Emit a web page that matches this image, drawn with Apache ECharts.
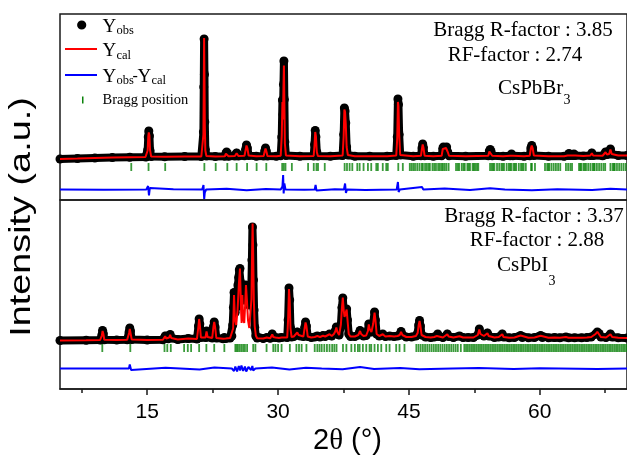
<!DOCTYPE html>
<html>
<head>
<meta charset="utf-8">
<script src="https://cdn.jsdelivr.net/npm/echarts@6/dist/echarts.min.js"></script>
<style>html,body{margin:0;padding:0;background:#fff;}#c{width:627px;height:455px;}</style>
</head>
<body>
<div id="c"></div>
<script>
// ---------- DATA ----------
const xTickValues = [15, 30, 45, 60];
const xMinorTickValues = [7.5, 22.5, 37.5, 52.5, 67.5];

// CsPbBr3 (top panel)
const obsTop = [
[5.0,600],[7.0,700],[9.0,800],[11.0,880],[13.0,950],[14.8,1000],
[14.95,1050],[15.05,2400],[15.12,5000],[15.18,6200],[15.25,5200],[15.32,2300],[15.45,1100],
[17.0,1050],[19.3,1100],[21.2,1100],
[21.38,1300],[21.44,6000],[21.48,15000],[21.52,24600],[21.56,17500],[21.6,8000],[21.66,2500],[21.78,1200],
[22.8,1100],[23.9,1150],[24.02,1700],[24.1,2000],[24.2,1700],[24.32,1150],
[25.05,1200],[25.17,1600],[25.25,1800],[25.33,1600],[25.45,1200],
[26.15,1250],[26.28,2500],[26.38,3400],[26.48,2800],[26.62,1300],
[27.5,1150],[28.35,1200],[28.47,2200],[28.56,2800],[28.65,2200],[28.78,1200],
[29.8,1150],[30.3,1250],[30.42,5000],[30.5,12400],[30.56,9500],[30.62,15500],[30.67,20200],[30.72,12500],[30.78,4000],[30.9,1300],
[32.5,1150],[34.08,1200],[34.18,3500],[34.26,6300],[34.34,5000],[34.44,2000],[34.56,1200],
[36.0,1150],[37.4,1300],[37.52,5500],[37.6,10800],[37.68,10200],[37.76,7800],[37.86,3000],[38.0,1400],
[38.8,1150],[40.5,1150],[42.5,1150],[43.55,1300],[43.66,5000],[43.74,12600],[43.8,11500],[43.88,5500],[44.0,1400],
[45.5,1150],[46.38,1250],[46.5,2800],[46.58,3600],[46.66,2900],[46.8,1250],
[47.8,1150],[48.75,1250],[48.88,2700],[48.95,3000],[49.1,2400],[49.25,2900],[49.32,3000],[49.45,2000],[49.6,1250],
[51.5,1150],[54.1,1250],[54.22,2200],[54.32,2500],[54.42,2100],[54.55,1250],
[55.8,1150],[56.6,1250],[56.76,1600],[56.92,1250],[58.2,1150],
[58.85,1250],[58.98,2800],[59.08,3300],[59.18,2800],[59.32,1300],
[61.0,1150],[62.8,1150],[63.2,1300],[63.35,1700],[63.5,1300],[63.8,1300],[63.92,1600],[64.05,1300],
[65.0,1200],[65.8,1300],[65.97,1800],[66.12,1300],[67.2,1250],[67.4,1400],[67.54,2000],[67.7,1500],
[67.95,1600],[68.1,2600],[68.25,1600],[69.0,1300],[70.0,1300]
];
const calTop = [
[5.0,620],[7.0,700],[9.0,790],[11.0,880],[13.0,950],[14.8,1000],
[14.95,1030],[15.05,2300],[15.12,5100],[15.18,5900],[15.25,5300],[15.32,2400],[15.45,1080],
[17.0,1050],[19.3,1100],[21.2,1100],
[21.38,1250],[21.44,5500],[21.48,14500],[21.52,24800],[21.56,17000],[21.6,7500],[21.66,2300],[21.78,1200],
[22.8,1100],[23.9,1150],[24.02,1650],[24.1,1950],[24.2,1700],[24.32,1150],
[25.05,1200],[25.17,1550],[25.25,1750],[25.33,1600],[25.45,1200],
[26.15,1250],[26.28,2400],[26.38,3300],[26.48,2800],[26.62,1300],
[27.5,1150],[28.35,1200],[28.47,2150],[28.56,2700],[28.65,2200],[28.78,1200],
[29.8,1150],[30.3,1250],[30.42,5200],[30.5,12000],[30.56,8500],[30.62,15000],[30.67,19300],[30.72,12000],[30.78,3700],[30.9,1300],
[32.5,1150],[34.08,1200],[34.18,3400],[34.26,6000],[34.34,5100],[34.44,2000],[34.56,1200],
[36.0,1150],[37.4,1300],[37.52,5200],[37.6,10500],[37.68,10000],[37.76,7600],[37.86,3000],[38.0,1400],
[38.8,1150],[40.5,1150],[42.5,1150],[43.55,1300],[43.66,4800],[43.74,12000],[43.8,11200],[43.88,5600],[44.0,1400],
[45.5,1150],[46.38,1250],[46.5,2700],[46.58,3500],[46.66,2900],[46.8,1250],
[47.8,1150],[48.75,1250],[48.88,2600],[48.95,2900],[49.1,2400],[49.25,2800],[49.32,2900],[49.45,2000],[49.6,1250],
[51.5,1150],[54.1,1250],[54.22,2100],[54.32,2450],[54.42,2100],[54.55,1250],
[55.8,1150],[56.6,1250],[56.76,1600],[56.92,1250],[58.2,1150],
[58.85,1250],[58.98,2700],[59.08,3300],[59.18,2800],[59.32,1300],
[61.0,1150],[62.8,1150],[63.2,1300],[63.35,1650],[63.5,1300],[63.8,1300],[63.92,1600],[64.05,1300],
[65.0,1200],[65.8,1300],[65.97,1750],[66.12,1300],[67.2,1250],[67.4,1400],[67.54,1950],[67.7,1500],
[67.95,1600],[68.1,2500],[68.25,1600],[69.0,1300],[70.0,1300]
];
const diffTop = [
[5,0],[10,-50],[14.9,0],[15.1,700],[15.2,-1200],[15.3,300],[15.5,0],[18,50],[21.3,0],
[21.45,900],[21.53,-1900],[21.6,-600],[21.75,0],[24.1,150],[26.4,-150],[28.6,100],[30.3,0],
[30.5,600],[30.58,2900],[30.64,-800],[30.72,1200],[30.85,0],[33,-50],[34.2,0],[34.3,900],
[34.4,-200],[34.55,0],[36.5,50],[37.55,0],[37.68,1200],[37.78,-700],[37.9,0],[40,-100],
[43.6,0],[43.74,1500],[43.82,-500],[43.95,0],[46.5,500],[46.65,0],[49.1,200],[52,-100],
[54.3,250],[56,0],[59.1,-150],[62,50],[66,-100],[68.1,150],[70,0]
];
const braggTop = [
13.17,15.15,17.06,21.55,22.85,24.18,25.25,26.45,27.54,28.65,30.47,30.66,30.85,31.58,33.44,34.09,
34.4,34.58,35.35,37.63,37.9,38.2,38.51,39.08,39.35,39.8,40.3,40.68,41.26,41.44,42.0,42.4,42.58,
43.78,44.3,45.1,45.3,45.5,45.7,45.95,46.2,46.45,46.6,46.85,47.05,47.25,47.4,47.7,47.9,48.1,48.35,48.55,48.75,48.9,
49.1,49.3,49.55,50.4,50.6,50.75,51.05,51.25,51.4,51.7,51.85,52.0,52.3,52.45,52.6,52.8,52.95,54.3,54.5,54.65,54.8,55.1,55.35,55.6,55.75,55.9,
56.2,56.45,56.6,56.75,57.0,57.15,57.3,57.6,57.85,58.0,58.15,58.4,59.0,59.1,59.45,60.6,60.85,61.0,61.1,61.35,61.6,
61.85,62.1,62.35,63.0,63.25,63.5,63.7,64.5,64.65,64.75,65.0,65.15,65.3,65.55,65.8,66.05,66.2,66.3,66.55,66.8,
67.05,67.3,67.5,68.1,68.35,68.5,68.6,68.85,69.1,69.35,69.6,69.85
];

// CsPbI3 (bottom panel)
const obsBot = [
[5,900],[8,950],[9.6,1000],[9.7,1050],[9.8,2000],[9.88,2900],[9.96,2300],[10.08,1050],
[11.5,1000],[12.7,1050],[12.8,1100],[12.92,2600],[13.0,3400],[13.08,2800],[13.22,1100],
[15.0,1000],[16.8,1050],[16.95,1300],[17.06,1800],[17.18,1300],[17.4,1250],[17.52,1500],[17.63,2100],[17.75,1400],
[18.5,1100],[19.7,1300],[20.7,1200],[20.78,1400],[20.88,3800],[20.95,5200],[21.03,4200],[21.15,1500],
[21.68,1500],[21.8,2800],[21.92,1600],[22.45,1400],[22.58,3600],[22.68,4600],[22.78,3600],[22.92,1400],
[23.7,1250],[23.84,1500],[24.0,1300],[24.5,1400],
[24.7,1800],[24.8,4000],[24.88,7500],[24.95,10500],[25.02,8000],[25.08,6500],[25.14,8500],[25.2,7500],
[25.26,8500],[25.32,10000],[25.4,12000],[25.48,13500],[25.56,15000],[25.63,15300],[25.7,12500],[25.76,9500],
[25.82,9000],[25.88,10500],[25.94,9500],[26.0,9000],[26.06,10000],[26.12,9500],[26.18,10500],[26.24,11500],
[26.3,12000],[26.36,11800],[26.42,11000],[26.48,10000],[26.55,9000],[26.62,8500],[26.7,8000],[26.78,8500],
[26.86,9500],[26.94,12000],[27.0,17000],[27.06,23600],[27.12,20000],[27.18,13000],[27.25,7000],[27.33,3500],
[27.45,1800],[27.6,1400],
[28.3,1300],[28.7,1500],[29.1,1350],[29.2,1500],[29.33,2200],[29.45,1600],[29.7,1500],[30.1,1400],[30.4,1500],
[31.05,1500],[31.15,5000],[31.25,11400],[31.33,9000],[31.42,3500],[31.55,1600],
[31.8,1700],[32.0,2000],[32.2,2600],[32.35,2000],[32.55,1800],
[32.9,1700],[33.05,3500],[33.15,4600],[33.25,3800],[33.4,1700],
[33.8,1500],[34.2,1600],[34.5,1800],[34.8,1600],[35.15,1900],[35.4,1700],[35.6,1900],[35.9,2200],[36.15,1800],[36.4,2200],
[36.55,2800],[36.68,3600],[36.8,2600],[37.0,2000],[37.2,4000],[37.32,7500],[37.42,9400],[37.52,7000],
[37.62,5500],[37.75,6500],[37.86,7200],[37.96,5000],[38.1,2200],[38.3,1700],
[38.8,1700],[39.2,2000],[39.3,2300],[39.4,2900],[39.52,2200],[39.8,1800],[40.1,1900],
[40.3,2800],[40.4,4200],[40.5,3200],[40.7,2600],[40.9,4200],[41.06,6600],[41.16,5000],[41.3,2200],
[41.6,1800],[42.0,2200],[42.3,1700],[42.8,1800],[43.3,1700],[43.7,1800],
[43.95,2000],[44.1,2700],[44.25,2000],[44.7,1600],[45.3,1600],[45.8,1800],
[46.0,2400],[46.12,4000],[46.22,4900],[46.32,3800],[46.45,2000],
[46.9,1600],[47.5,1500],[47.9,1600],[48.2,1800],[48.3,2200],[48.42,1700],
[48.9,1500],[49.4,2200],[49.55,1700],[50.1,1500],[50.8,1800],[51.2,1500],[51.8,1500],[52.4,1500],
[52.9,2000],[53.07,3200],[53.2,2200],[53.6,1800],[54.0,2400],[54.15,1800],
[54.8,1500],[55.3,1600],[55.7,2200],[55.85,1600],[56.5,1450],[57.1,1500],[57.8,1900],[58.0,1500],
[58.7,1450],[59.4,1500],[60.1,1900],[60.3,1500],[61.0,1450],[61.7,1500],[62.3,1450],[63.0,1600],[63.3,1450],
[64.0,1450],[64.8,1450],[65.4,1500],[65.9,1600],[66.4,2200],[66.6,2600],[66.8,2300],[67.0,1600],
[67.6,1500],[68.1,2200],[68.3,1600],[69.0,1450],[70.0,1400]
];
const calBot = [
[5,920],[8,950],[9.6,1000],[9.7,1050],[9.8,1900],[9.88,2800],[9.96,2300],[10.08,1050],
[11.5,1000],[12.7,1050],[12.8,1100],[12.92,2400],[13.0,3200],[13.08,2800],[13.22,1100],
[15.0,1000],[16.8,1050],[16.95,1300],[17.06,1750],[17.18,1300],[17.4,1250],[17.52,1500],[17.63,2050],[17.75,1400],
[18.5,1100],[19.7,1300],[20.7,1200],[20.78,1400],[20.88,3900],[20.95,5200],[21.03,4100],[21.15,1500],
[21.68,1500],[21.8,2700],[21.92,1600],[22.45,1400],[22.58,3500],[22.68,4600],[22.78,3600],[22.92,1400],
[23.7,1250],[23.84,1450],[24.0,1300],[24.5,1400],
[24.7,1700],[24.85,3300],[24.95,10000],[25.05,5200],[25.2,4000],[25.35,6800],[25.5,12000],[25.63,15300],
[25.75,7200],[25.82,4400],[25.9,10000],[26.0,5200],[26.12,4400],[26.22,7800],[26.32,12000],[26.42,9200],
[26.55,5000],[26.7,3400],[26.85,3800],[26.95,9200],[27.02,18500],[27.08,24300],[27.14,19000],[27.22,9000],
[27.32,3800],[27.45,1900],[27.6,1350],
[28.3,1300],[28.7,1500],[29.1,1350],[29.2,1500],[29.33,2100],[29.45,1600],[29.7,1500],[30.1,1400],[30.4,1500],
[31.05,1500],[31.15,5200],[31.25,11200],[31.33,9000],[31.42,3400],[31.55,1600],
[31.8,1700],[32.0,2000],[32.2,2500],[32.35,2000],[32.55,1800],
[32.9,1700],[33.05,3400],[33.15,4500],[33.25,3800],[33.4,1700],
[33.8,1500],[34.2,1600],[34.5,1800],[34.8,1600],[35.15,1850],[35.4,1700],[35.6,1900],[35.9,2150],[36.15,1800],[36.4,2200],
[36.55,2700],[36.68,3500],[36.8,2600],[37.0,2000],[37.2,4100],[37.32,7400],[37.42,9500],[37.52,7000],
[37.62,5600],[37.75,6400],[37.86,7100],[37.96,5000],[38.1,2200],[38.3,1700],
[38.8,1700],[39.2,2000],[39.3,2200],[39.4,2800],[39.52,2200],[39.8,1800],[40.1,1900],
[40.3,2800],[40.4,4100],[40.5,3200],[40.7,2600],[40.9,4200],[41.06,6500],[41.16,5000],[41.3,2200],
[41.6,1800],[42.0,2150],[42.3,1700],[42.8,1800],[43.3,1700],[43.7,1800],
[43.95,2000],[44.1,2650],[44.25,2000],[44.7,1600],[45.3,1600],[45.8,1800],
[46.0,2400],[46.12,4000],[46.22,4800],[46.32,3800],[46.45,2000],
[46.9,1600],[47.5,1500],[47.9,1600],[48.2,1800],[48.3,2150],[48.42,1700],
[48.9,1500],[49.4,2150],[49.55,1700],[50.1,1500],[50.8,1750],[51.2,1500],[51.8,1500],[52.4,1500],
[52.9,2000],[53.07,3100],[53.2,2200],[53.6,1800],[54.0,2350],[54.15,1800],
[54.8,1500],[55.3,1600],[55.7,2150],[55.85,1600],[56.5,1450],[57.1,1500],[57.8,1900],[58.0,1500],
[58.7,1450],[59.4,1500],[60.1,1850],[60.3,1500],[61.0,1450],[61.7,1500],[62.3,1450],[63.0,1600],[63.3,1450],
[64.0,1450],[64.8,1450],[65.4,1500],[65.9,1600],[66.4,2200],[66.6,2650],[66.8,2300],[67.0,1600],
[67.6,1500],[68.1,2150],[68.3,1600],[69.0,1450],[70.0,1400]
];
const diffBot = [
[5,0],[9.7,0],[9.9,300],[10.1,0],[12.9,0],[13.0,800],[13.15,-300],[13.3,0],[17.1,150],[21,-200],
[22.7,200],[24.7,0],[24.95,-500],[25.1,400],[25.3,-600],[25.5,500],[25.65,-400],[25.8,600],[26.0,-500],
[26.2,400],[26.35,-600],[26.6,300],[26.9,-300],[27.05,500],[27.15,-400],[27.4,0],[29.3,200],[31.3,-200],
[33.2,150],[35,0],[37.4,-150],[39.4,300],[41,-100],[44,100],[46.2,-150],[50,0],[53,100],[57,-100],
[60,50],[66.6,-100],[70,0]
];
const braggBot = [
9.85,13.06,16.98,17.3,17.7,19.23,19.65,20.03,20.95,21.78,22.68,23.84,25.1,25.25,25.4,25.6,25.8,26.0,
26.2,26.45,27.15,27.4,28.68,29.45,29.7,30.0,30.4,31.35,32.1,32.4,32.7,33.25,34.2,34.5,34.75,35.0,35.3,
35.6,35.9,36.2,36.45,36.7,37.44,37.83,38.4,38.8,39.15,39.35,39.72,40.11,40.49,40.68,41.06,41.44,41.83,
42.4,42.78,43.54,43.92,44.49,45.85,46.1,46.35,46.6,46.85,47.1,47.35,47.6,47.85,48.1,48.35,48.6,48.85,
49.1,49.35,49.6,49.85,50.1,50.35,50.6,50.95,51.35,51.55,51.75,51.95,52.15,52.35,52.55,52.75,52.95,53.15,
53.35,53.55,53.75,53.95,54.15,54.35,54.55,54.75,54.95,55.15,55.35,55.55,55.75,55.95,56.15,56.35,56.55,
56.75,56.95,57.15,57.35,57.55,57.75,57.95,58.15,58.35,58.55,58.75,58.95,59.15,59.35,59.55,59.75,59.95,
60.15,60.35,60.55,60.75,60.95,61.15,61.35,61.55,61.75,61.95,62.15,62.35,62.55,62.75,62.95,63.15,63.35,
63.55,63.75,63.95,64.15,64.35,64.55,64.75,64.95,65.15,65.35,65.55,65.75,65.95,66.15,66.35,66.55,66.75,
66.95,67.15,67.35,67.55,67.75,67.95,68.15,68.35,68.55,68.75,68.95,69.15,69.35,69.55,69.75,69.95
];

// display offsets (axis units) for the Bragg-tick rows and the difference curves
const BRAGG_LEVEL_TOP = -1000, DIFF_OFFSET_TOP = -5500;
const BRAGG_LEVEL_BOT = -600,  DIFF_OFFSET_BOT = -4700;

// ---------- CHART ----------
const chart = echarts.init(document.getElementById('c'), null, {renderer: 'canvas'});
const SERIF = '"Liberation Serif", "Times New Roman", serif';
const SANS = '"Liberation Sans", Arial, sans-serif';
const GREEN = '#0a820a';

function obsSeries(data, xi, yi) {
  return {type: 'line', xAxisIndex: xi, yAxisIndex: yi, data: data, symbol: 'circle', symbolSize: 9,
    showSymbol: true, showAllSymbol: true, lineStyle: {color: '#000', width: 8, join: 'round'}, itemStyle: {color: '#000'},
    z: 1, silent: true};
}
function calSeries(data, xi, yi) {
  return {type: 'line', xAxisIndex: xi, yAxisIndex: yi, data: data, symbol: 'none',
    lineStyle: {color: '#ff0000', width: 2}, z: 3, silent: true};
}
function diffSeries(data, off, xi, yi) {
  return {type: 'line', xAxisIndex: xi, yAxisIndex: yi, data: data.map(p => [p[0], p[1] + off]), symbol: 'none',
    lineStyle: {color: '#0000ff', width: 2}, z: 3, silent: true};
}
function braggSeries(pos, lvl, xi, yi) {
  return {type: 'scatter', xAxisIndex: xi, yAxisIndex: yi, data: pos.map(x => [x, lvl]), symbol: 'rect',
    symbolSize: [1.8, 8], itemStyle: {color: GREEN}, z: 2, silent: true};
}

function txt(x, y, text, size, opts) {
  return Object.assign({type: 'text', x: x, y: y, silent: true,
    style: Object.assign({text: text, fontSize: size, fontFamily: SERIF, fill: '#000', align: 'left', verticalAlign: 'middle'}, (opts && opts.style) || {})},
    opts && opts.el || {});
}

const option = {
  animation: false,
  backgroundColor: '#fff',
  textStyle: {fontFamily: SANS},
  grid: [
    {left: 60, top: 14, right: -1, height: 186, show: true, borderColor: '#1a1a1a', borderWidth: 1.5, backgroundColor: 'transparent'},
    {left: 60, top: 200, right: -1, height: 189, show: true, borderColor: '#1a1a1a', borderWidth: 1.5, backgroundColor: 'transparent'}
  ],
  xAxis: [
    {type: 'value', gridIndex: 0, min: 5, max: 70, show: false},
    {type: 'value', gridIndex: 1, min: 5, max: 70, position: 'bottom',
      axisLine: {show: true, onZero: false, lineStyle: {color: '#1a1a1a', width: 1.5}},
      axisTick: {show: true, inside: false, length: 6, customValues: xTickValues, lineStyle: {color: '#1a1a1a', width: 1.5}},
      axisLabel: {show: true, customValues: xTickValues, fontSize: 21, color: '#000', fontFamily: SANS, margin: 13},
      splitLine: {show: false}},
    {type: 'value', gridIndex: 1, min: 5, max: 70, position: 'bottom',
      axisLine: {show: false, onZero: false},
      axisTick: {show: true, inside: false, length: 4, customValues: xMinorTickValues, lineStyle: {color: '#1a1a1a', width: 1.5}},
      axisLabel: {show: false}, splitLine: {show: false}}
  ],
  yAxis: [
    {type: 'value', gridIndex: 0, min: -7600, max: 29600, show: false, splitLine: {show: false}},
    {type: 'value', gridIndex: 1, min: -8800, max: 29000, show: false, splitLine: {show: false}}
  ],
  series: [
    obsSeries(obsTop, 0, 0), calSeries(calTop, 0, 0), braggSeries(braggTop, BRAGG_LEVEL_TOP, 0, 0), diffSeries(diffTop, DIFF_OFFSET_TOP, 0, 0),
    obsSeries(obsBot, 1, 1), calSeries(calBot, 1, 1), braggSeries(braggBot, BRAGG_LEVEL_BOT, 1, 1), diffSeries(diffBot, DIFF_OFFSET_BOT, 1, 1)
  ],
  graphic: [
    // legend
    {type: 'circle', shape: {cx: 81.7, cy: 25, r: 4.6}, style: {fill: '#000'}, silent: true},
    txt(102.5, 27, 'Y', 19), txt(116.5, 30.5, 'obs', 12.5),
    {type: 'line', shape: {x1: 65, y1: 49, x2: 97, y2: 49}, style: {stroke: '#ff0000', lineWidth: 2}, silent: true},
    txt(102.5, 51, 'Y', 19), txt(116.5, 56, 'cal', 12.5),
    {type: 'line', shape: {x1: 65, y1: 75, x2: 97, y2: 75}, style: {stroke: '#0000ff', lineWidth: 2}, silent: true},
    txt(102.5, 77, 'Y', 19), txt(116.5, 81, 'obs', 12.5), txt(132.5, 77, '-', 16), txt(137.5, 77, 'Y', 19), txt(151.5, 81, 'cal', 12.5),
    {type: 'rect', shape: {x: 82, y: 96.5, width: 1.5, height: 7}, style: {fill: GREEN}, silent: true},
    txt(102.5, 100, 'Bragg position', 14.5),
    // top annotations
    txt(523, 30, 'Bragg R-factor : 3.85', 21, {style: {align: 'center'}}),
    txt(515, 55, 'RF-factor : 2.74', 21, {style: {align: 'center'}}),
    txt(498, 88, 'CsPbBr', 21), txt(563.5, 100, '3', 14),
    // bottom annotations
    txt(534, 216, 'Bragg R-factor : 3.37', 21, {style: {align: 'center'}}),
    txt(537, 240.5, 'RF-factor : 2.88', 21, {style: {align: 'center'}}),
    txt(497, 265, 'CsPbI', 21), txt(548.5, 281, '3', 14),
    // axis titles
    {type: 'text', x: 22, y: 217, rotation: Math.PI / 2, scaleX: 1.26, silent: true,
      style: {text: 'Intensity (a.u.)', fontSize: 30, fontFamily: SANS, fill: '#000', align: 'center', verticalAlign: 'middle'}},
    {type: 'text', x: 347.5, y: 441, silent: true,
      style: {text: '{n|2}{t|θ}{n| (°)}', align: 'center', verticalAlign: 'middle', fill: '#000',
        rich: {n: {fontSize: 29, fontFamily: SANS, fill: '#000'}, t: {fontSize: 29, fontFamily: SERIF, fill: '#000'}}}}
  ]
};
chart.setOption(option);
</script>
</body>
</html>
